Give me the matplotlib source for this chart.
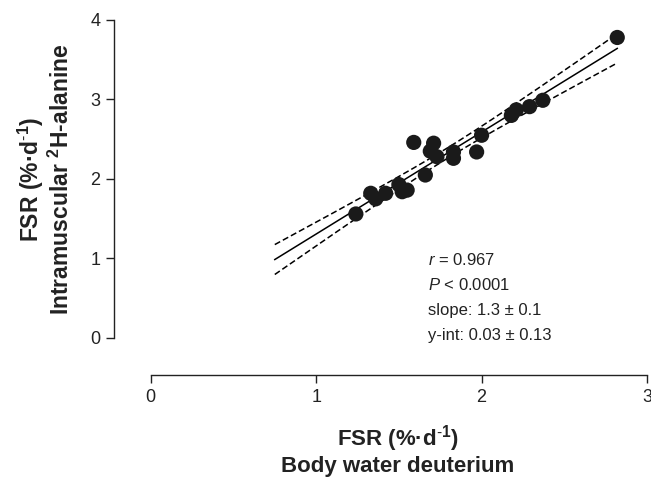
import numpy as np
import matplotlib
matplotlib.use('Agg')
import matplotlib.pyplot as plt

# ========== 数据 ==========
# FSR (%/d) body water deuterium vs intramuscular 2H-alanine
fsr_water = [1.24, 1.33, 1.36, 1.42, 1.50, 1.55, 1.52, 1.66, 1.59, 1.71, 1.69,
             1.73, 1.83, 1.83, 1.97, 2.00, 2.18, 2.21, 2.29, 2.37, 2.82]
fsr_alanine = [1.56, 1.82, 1.75, 1.82, 1.93, 1.86, 1.84, 2.05, 2.46, 2.45, 2.35,
               2.28, 2.34, 2.26, 2.34, 2.55, 2.80, 2.87, 2.91, 2.99, 3.78]
x_ticks = [0, 1, 2, 3]
y_ticks = [0, 1, 2, 3, 4]
stats_lines = [r'$\mathit{r}$ = 0.967', r'$\mathit{P}$ < 0.0001',
               'slope: 1.3 ± 0.1', 'y-int: 0.03 ± 0.13']

plt.rcParams['font.family'] = ['Liberation Sans', 'DejaVu Sans']
plt.rcParams['mathtext.fontset'] = 'custom'
plt.rcParams['mathtext.rm'] = 'Liberation Sans'
plt.rcParams['mathtext.it'] = 'Liberation Sans:italic'
plt.rcParams['mathtext.bf'] = 'Liberation Sans:bold'

x = np.array(fsr_water)
y = np.array(fsr_alanine)

# ========== 回归 + 95% 置信带 ==========
slope, intercept = np.polyfit(x, y, 1)
n = len(x)
resid = y - (slope * x + intercept)
s = np.sqrt(np.sum(resid ** 2) / (n - 2))
sxx = np.sum((x - x.mean()) ** 2)
t_crit = 2.093  # df = 19
xf = np.linspace(0.75, x.max(), 200)
yf = slope * xf + intercept
half = t_crit * s * np.sqrt(1 / n + (xf - x.mean()) ** 2 / sxx)

# ========== 绘图 ==========
fig = plt.figure(figsize=(6.51, 4.78), dpi=100)
ax = fig.add_axes([0.2315, 0.2929, 0.7624, 0.6653])

ax.plot(xf, yf, color='black', lw=1.1, zorder=2)
ax.plot(xf, yf + half, color='black', lw=1.1, ls=(0, (4, 2)), zorder=2)
ax.plot(xf, yf - half, color='black', lw=1.1, ls=(0, (4, 2)), zorder=2)
ax.scatter(x, y, s=120, color='#1a1a1a', edgecolors='none', zorder=3, clip_on=False)

ax.set_xlim(0, 3)
ax.set_ylim(0, 4)
ax.set_xticks(x_ticks)
ax.set_yticks(y_ticks)
ax.tick_params(direction='out', length=5.8, width=1.0, labelsize=13,
               colors='#222222', pad=4)

for side in ['top', 'right']:
    ax.spines[side].set_visible(False)
ax.spines['left'].set_position(('outward', 26.4))
ax.spines['bottom'].set_position(('outward', 26.6))
for side in ['left', 'bottom']:
    ax.spines[side].set_linewidth(1.0)
    ax.spines[side].set_color('#222222')

for i, line in enumerate(stats_lines):
    ax.text(1.677, 0.98 - i * 0.315, line, fontsize=12, va='center', ha='left',
            color='#222222')

sup = r'$^{\mathbf{\text{-}1}}$'
fig.text(398 / 651, 1 - 450 / 478,
         'FSR (%·d' + sup + ')\nBody water deuterium',
         ha='center', va='center', fontsize=16, fontweight='bold',
         linespacing=1.15, color='#222222')
fig.text(45 / 651, 1 - 179 / 478,
         'FSR (%·d' + sup + ')\nIntramuscular $^{\\mathbf{2}}$H-alanine',
         ha='center', va='center', rotation=90, fontsize=16.5, fontweight='bold',
         linespacing=1.15, color='#222222')

fig.savefig('out.png', dpi=100)
